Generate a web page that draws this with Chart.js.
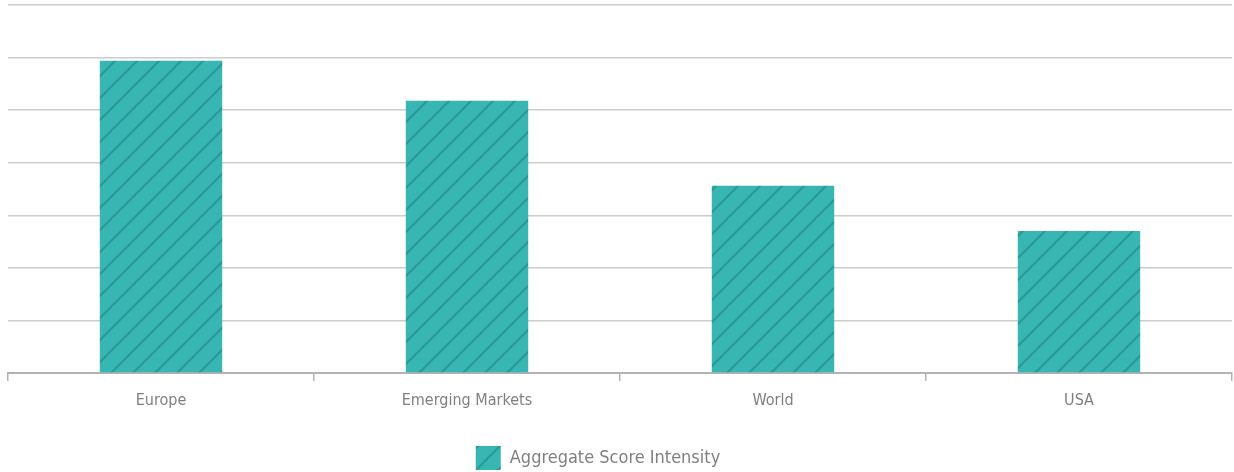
<!DOCTYPE html>
<html>
<head>
<meta charset="utf-8">
<script src="https://cdn.jsdelivr.net/npm/chart.js@4"></script>
<style>
  html, body { margin: 0; padding: 0; background: #fff; }
  #wrap { width: 1234px; height: 472px; }
</style>
</head>
<body>
<div id="wrap"><canvas id="chart"></canvas></div>
<script>
// --- data ---
const categories = ['Europe', 'Emerging Markets', 'World', 'USA'];
const scoreIntensity = [5.94, 5.18, 3.56, 2.70];
const seriesLabel = 'Aggregate Score Intensity';

// hatch fill: teal with darker diagonal stripes
const makeHatch = () => {
    const size = 22;
    const c = document.createElement('canvas');
    c.width = size;
    c.height = size;
    const g = c.getContext('2d');
    g.fillStyle = '#37b6b3';
    g.fillRect(0, 0, size, size);
    g.strokeStyle = '#2b9895';
    g.lineWidth = 2;
    g.beginPath();
    g.moveTo(-2, size + 2); g.lineTo(size + 2, -2);
    g.moveTo(-2, 2); g.lineTo(2, -2);
    g.moveTo(size - 2, size + 2); g.lineTo(size + 2, size - 2);
    g.stroke();
    return g.createPattern(c, 'repeat');
};

const hatch = makeHatch();
const labelFont = "'DejaVu Sans', sans-serif";

// nudge the legend a bit left, like in the original
const legendShift = {
    id: 'legendShift',
    afterLayout(chart) {
        const lg = chart.legend;
        if (!lg) return;
        lg.left -= 22;
        lg.right -= 22;
        lg.adjustHitBoxes();
    }
};

new Chart(document.getElementById('chart'), {
    type: 'bar',
    data: {
        labels: categories,
        datasets: [{
            label: seriesLabel,
            data: scoreIntensity,
            backgroundColor: hatch,
            borderWidth: 0,
            barPercentage: 0.4,
            categoryPercentage: 1.0
        }]
    },
    options: {
        responsive: true,
        maintainAspectRatio: false,
        animation: false,
        layout: { padding: { left: 8, right: 2, top: 5, bottom: -8 } },
        scales: {
            x: {
                offset: true,
                grid: {
                    offset: true,
                    drawOnChartArea: false,
                    tickLength: 8,
                    color: '#b3b3b3',
                    lineWidth: 1.5
                },
                border: { color: '#b3b3b3', width: 2 },
                ticks: {
                    color: '#7f7f7f',
                    // stretch keyword goes with the weight so the font string stays valid
                    font: { family: labelFont, size: 16, weight: 'normal condensed' },
                    padding: 10
                },
                // keep extra room between the labels and the legend
                afterFit: (scale) => { scale.height = 71; }
            },
            y: {
                min: 0,
                max: 7,
                ticks: { display: false, stepSize: 1 },
                grid: { color: '#cccccc', lineWidth: 1.5, drawTicks: false },
                border: { display: false }
            }
        },
        plugins: {
            legend: {
                position: 'bottom',
                labels: {
                    color: '#7f7f7f',
                    font: { family: labelFont, size: 18, weight: 'normal condensed' },
                    boxWidth: 25,
                    boxHeight: 24,
                    padding: 2
                }
            },
            tooltip: { enabled: false }
        }
    },
    plugins: [legendShift]
});
</script>
</body>
</html>
